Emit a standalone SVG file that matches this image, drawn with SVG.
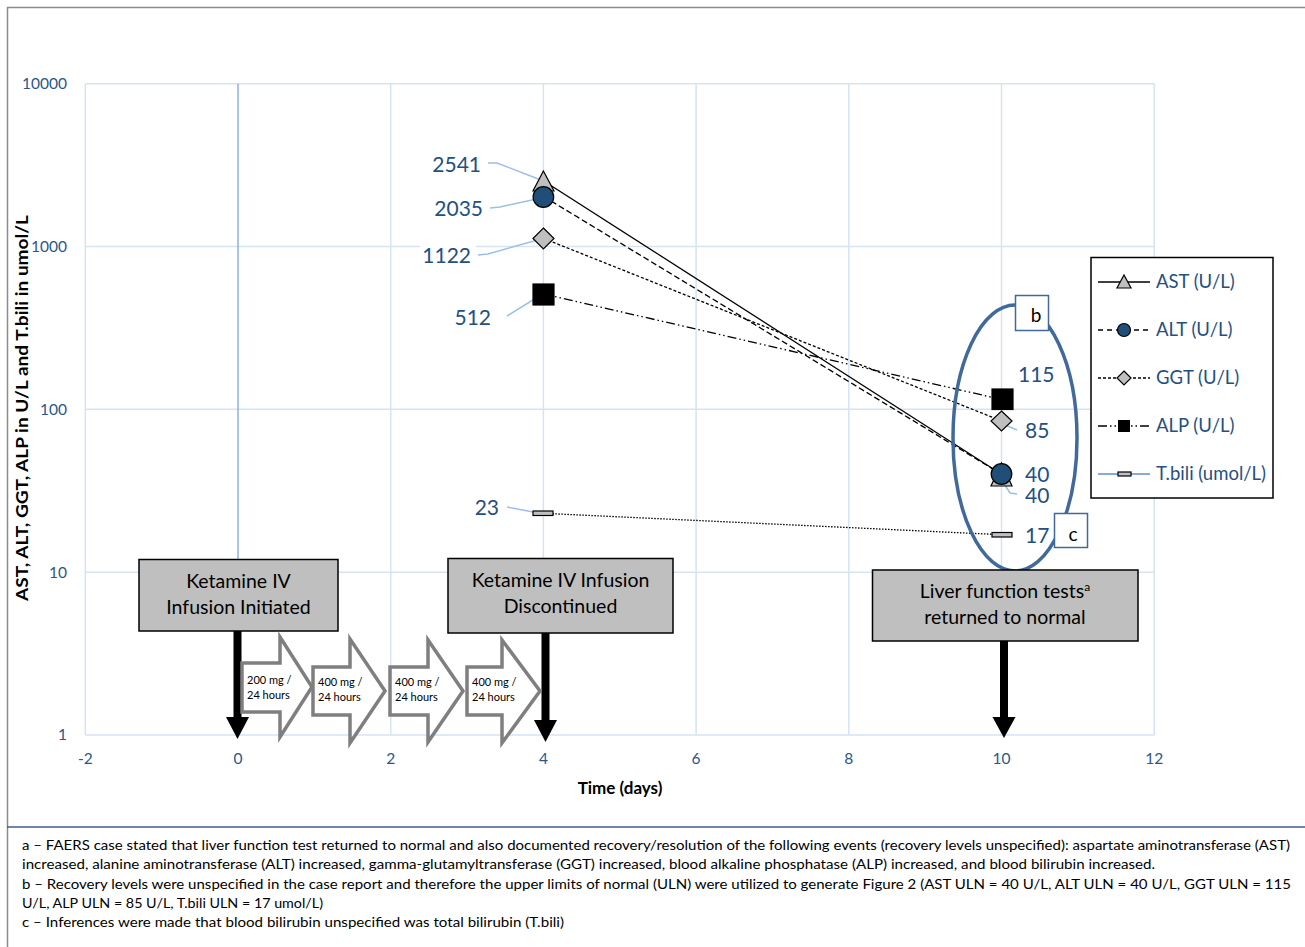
<svg xmlns="http://www.w3.org/2000/svg" width="1305" height="947" viewBox="0 0 1305 947">
<style>
text{font-family:Lato,"Liberation Sans",sans-serif}
.grid{stroke:#d6e3f3;stroke-width:1.5;fill:none}
.tick{fill:#2a5688;font-size:15.5px}
.dl{fill:#24507f;font-size:21px}
.lead{stroke:#9cbfe6;stroke-width:1.5;fill:none}
.lg{fill:#24507f;font-size:18.5px}
.evbox{fill:#bfbfbf;stroke:#000;stroke-width:1.5}
.evt{font-size:19.5px;fill:#000;text-anchor:middle}
.dose{fill:#fff;stroke:#7f7f7f;stroke-width:3.5;stroke-linejoin:miter}
.dt{font-size:11px;fill:#000}
.fn{font-size:13px;fill:#000}
.mk{stroke:#000;stroke-width:1.2}
</style>
<rect width="1305" height="947" fill="#fff"/>
<!-- frame -->
<path d="M7.5,947 V7.5 H1305" fill="none" stroke="#8c8c8c" stroke-width="1.5"/>
<line x1="7" y1="827" x2="1305" y2="827" stroke="#3a5f8c" stroke-width="1.5"/>

<!-- grid -->
<g id="grid">
<line class="grid" x1="85.3" y1="83.7" x2="1154.2" y2="83.7"/>
<line class="grid" x1="85.3" y1="246.5" x2="1154.2" y2="246.5"/>
<line class="grid" x1="85.3" y1="409.3" x2="1154.2" y2="409.3"/>
<line class="grid" x1="85.3" y1="572.2" x2="1154.2" y2="572.2"/>
<line class="grid" x1="85.3" y1="735" x2="1154.2" y2="735"/>
<line class="grid" x1="85.3" y1="83.7" x2="85.3" y2="735"/>
<line class="grid" x1="390.7" y1="83.7" x2="390.7" y2="735"/>
<line class="grid" x1="543.4" y1="83.7" x2="543.4" y2="735"/>
<line class="grid" x1="696.1" y1="83.7" x2="696.1" y2="735"/>
<line class="grid" x1="848.8" y1="83.7" x2="848.8" y2="735"/>
<line class="grid" x1="1001.5" y1="83.7" x2="1001.5" y2="735"/>
<line class="grid" x1="1154.2" y1="83.7" x2="1154.2" y2="735"/>
<line x1="238" y1="83.7" x2="238" y2="735" stroke="#8eb1de" stroke-width="1.5"/>
</g>

<!-- axis labels -->
<g id="yticks" class="tick" text-anchor="end">
<text x="67" y="89">10000</text>
<text x="67" y="252">1000</text>
<text x="67" y="415">100</text>
<text x="67" y="578">10</text>
<text x="67" y="740">1</text>
</g>
<g id="xticks" class="tick" text-anchor="middle">
<text x="85.3" y="764">-2</text>
<text x="238" y="764">0</text>
<text x="390.7" y="764">2</text>
<text x="543.4" y="764">4</text>
<text x="696.1" y="764">6</text>
<text x="848.8" y="764">8</text>
<text x="1001.5" y="764">10</text>
<text x="1154.2" y="764">12</text>
</g>
<text x="620" y="794" text-anchor="middle" font-weight="bold" font-size="17px">Time (days)</text>
<text transform="translate(28,408) rotate(-90)" text-anchor="middle" font-weight="bold" font-size="17px" textLength="386" lengthAdjust="spacingAndGlyphs">AST, ALT, GGT, ALP in U/L and T.bili in umol/L</text>

<!-- series lines -->
<g id="connectors" fill="none" stroke="#000" stroke-width="1.3">
<line x1="543.4" y1="180.7" x2="1001.5" y2="474.2"/>
<line x1="543.4" y1="196.4" x2="1001.5" y2="474.2" stroke-dasharray="6,3"/>
<line x1="543.4" y1="238.4" x2="1001.5" y2="420.9" stroke-dasharray="3,2"/>
<line x1="543.4" y1="293.9" x2="1001.5" y2="399.5" stroke-dasharray="9,3,1.5,3,1.5,3"/>
<line x1="543.4" y1="513.3" x2="1001.5" y2="534.7" stroke-dasharray="1.5,1.5"/>
</g>

<!-- leader lines -->
<g id="leaders" class="lead">
<polyline points="488,163 497,163 541,180"/>
<polyline points="490,208 500,207 541,198"/>
<polyline points="478,255 488,254 541,239"/>
<polyline points="507,316 541,295"/>
<polyline points="507,507 533,512"/>
<polyline points="1003,424 1017,430"/>
<polyline points="1003,482 1010,493 1017,494"/>
</g>

<!-- markers -->
<g id="markers" class="mk">
<polygon points="543.4,171 533,191 554,191" fill="#bfbfbf"/>
<circle cx="543.4" cy="197" r="10.3" fill="#1f4e79"/>
<polygon points="543.4,228 554,238.5 543.4,249 533,238.5" fill="#bfbfbf"/>
<rect x="533" y="284" width="21" height="21" fill="#000"/>
<rect x="533" y="511" width="20" height="4.5" fill="#bfbfbf"/>
<polygon points="1001.5,463 991,486 1012,486" fill="#bfbfbf"/>
<circle cx="1001.5" cy="474" r="10.3" fill="#1f4e79"/>
<polygon points="1001.5,411 1012,421 1001.5,431 991,421" fill="#bfbfbf"/>
<rect x="992" y="389" width="21" height="20.5" fill="#000"/>
<rect x="992" y="532.5" width="20" height="4.5" fill="#bfbfbf"/>
</g>

<!-- data labels -->
<g id="datalabels" class="dl">
<text x="481" y="172" text-anchor="end">2541</text>
<text x="483" y="216" text-anchor="end">2035</text>
<rect x="420" y="240" width="56" height="26" fill="#fff"/>
<text x="471" y="263" text-anchor="end">1122</text>
<text x="491" y="325" text-anchor="end">512</text>
<text x="499" y="515" text-anchor="end">23</text>
<text x="1018" y="382">115</text>
<text x="1025" y="438">85</text>
<text x="1025" y="482">40</text>
<text x="1025" y="503">40</text>
<text x="1025" y="543">17</text>
</g>

<!-- ellipse annotation -->
<g id="ellipse-note">
<ellipse cx="1015" cy="438" rx="62" ry="133" fill="none" stroke="#41699a" stroke-width="3.5"/>
</g>
<g id="note-b">
<rect x="1015.5" y="295.5" width="33" height="35" fill="#fff" stroke="#41699a" stroke-width="1.5"/>
<text x="1036" y="322" text-anchor="middle" font-size="19px">b</text>
</g>
<g id="note-c">
<rect x="1054.5" y="513.5" width="33" height="34" fill="#fff" stroke="#41699a" stroke-width="1.5"/>
<text x="1073" y="541" text-anchor="middle" font-size="19px">c</text>
</g>

<!-- legend -->
<g id="legend">
<rect x="1091" y="257.5" width="182" height="240.5" fill="#fff" stroke="#000" stroke-width="1.5"/>
<line x1="1098" y1="282" x2="1150" y2="282" stroke="#000" stroke-width="1.3"/>
<polygon class="mk" points="1124,275 1117,288 1131,288" fill="#bfbfbf"/>
<text class="lg" x="1156" y="288">AST (U/L)</text>
<line x1="1098" y1="330" x2="1150" y2="330" stroke="#000" stroke-width="1.3" stroke-dasharray="5,4"/>
<circle class="mk" cx="1124" cy="330" r="6.5" fill="#1f4e79"/>
<text class="lg" x="1156" y="336">ALT (U/L)</text>
<line x1="1098" y1="378" x2="1150" y2="378" stroke="#000" stroke-width="1.3" stroke-dasharray="3,2"/>
<polygon class="mk" points="1124,371 1131,378 1124,385 1117,378" fill="#bfbfbf"/>
<text class="lg" x="1156" y="384">GGT (U/L)</text>
<line x1="1098" y1="426" x2="1150" y2="426" stroke="#000" stroke-width="1.3" stroke-dasharray="9,3,1.5,3,1.5,3"/>
<rect x="1118" y="420" width="12" height="12" fill="#000"/>
<text class="lg" x="1156" y="432">ALP (U/L)</text>
<line x1="1098" y1="474" x2="1150" y2="474" stroke="#5b8fd0" stroke-width="1.3"/>
<rect class="mk" x="1118" y="472" width="13" height="4" fill="#bfbfbf"/>
<text class="lg" x="1156" y="480">T.bili (umol/L)</text>
</g>

<!-- events -->
<g id="event-initiated">
<rect class="evbox" x="139" y="559.5" width="199" height="71.5"/>
<text class="evt" x="238.5" y="588">Ketamine IV</text>
<text class="evt" x="238.5" y="614">Infusion Initiated</text>
<rect x="233.5" y="631" width="8" height="87" fill="#000"/>
<polygon points="226,717 249,717 237.5,739" fill="#000"/>
</g>
<g id="event-discontinued">
<rect class="evbox" x="448" y="558.5" width="225" height="74.5"/>
<text class="evt" x="560.5" y="587">Ketamine IV Infusion</text>
<text class="evt" x="560.5" y="613">Discontinued</text>
<rect x="541.5" y="633" width="8" height="88" fill="#000"/>
<polygon points="534,720 557,720 545.5,742" fill="#000"/>
</g>
<g id="event-normal">
<rect class="evbox" x="872.5" y="570" width="265.5" height="71"/>
<text class="evt" x="1005" y="598">Liver function tests<tspan font-size="12px" dy="-7">a</tspan></text>
<text class="evt" x="1005" y="624">returned to normal</text>
<rect x="1000" y="641" width="8" height="77" fill="#000"/>
<polygon points="992.5,717 1015.5,717 1004,738" fill="#000"/>
</g>

<!-- dose arrows -->
<g id="dose1">
<path class="dose" d="M242,663 H280 V637 L312,687 L280,737 V712 H242 Z"/>
<text class="dt" x="247" y="684">200 mg /</text>
<text class="dt" x="247" y="699">24 hours</text>
</g>
<g id="dose2">
<path class="dose" d="M313,667 H350 V639 L385,691 L350,743 V715 H313 Z"/>
<text class="dt" x="318" y="686">400 mg /</text>
<text class="dt" x="318" y="701">24 hours</text>
</g>
<g id="dose3">
<path class="dose" d="M390,667 H428 V640 L463,691 L428,742 V715 H390 Z"/>
<text class="dt" x="395" y="686">400 mg /</text>
<text class="dt" x="395" y="701">24 hours</text>
</g>
<g id="dose4">
<path class="dose" d="M467,667 H502 V640 L540,691 L502,743 V715 H467 Z"/>
<text class="dt" x="472" y="686">400 mg /</text>
<text class="dt" x="472" y="701">24 hours</text>
</g>

<!-- footnotes -->
<g id="footnotes" class="fn">
<text x="22" y="850" textLength="1268" lengthAdjust="spacingAndGlyphs">a – FAERS case stated that liver function test returned to normal and also documented recovery/resolution of the following events (recovery levels unspecified): aspartate aminotransferase (AST)</text>
<text x="22" y="869" textLength="1133" lengthAdjust="spacingAndGlyphs">increased, alanine aminotransferase (ALT) increased, gamma-glutamyltransferase (GGT) increased, blood alkaline phosphatase (ALP) increased, and blood bilirubin increased.</text>
<text x="22" y="888.5" textLength="1269" lengthAdjust="spacingAndGlyphs">b – Recovery levels were unspecified in the case report and therefore the upper limits of normal (ULN) were utilized to generate Figure 2 (AST ULN = 40 U/L, ALT ULN = 40 U/L, GGT ULN = 115</text>
<text x="22" y="907.5" textLength="301" lengthAdjust="spacingAndGlyphs">U/L, ALP ULN = 85 U/L, T.bili ULN = 17 umol/L)</text>
<text x="22" y="927" textLength="542" lengthAdjust="spacingAndGlyphs">c – Inferences were made that blood bilirubin unspecified was total bilirubin (T.bili)</text>
</g>
</svg>
